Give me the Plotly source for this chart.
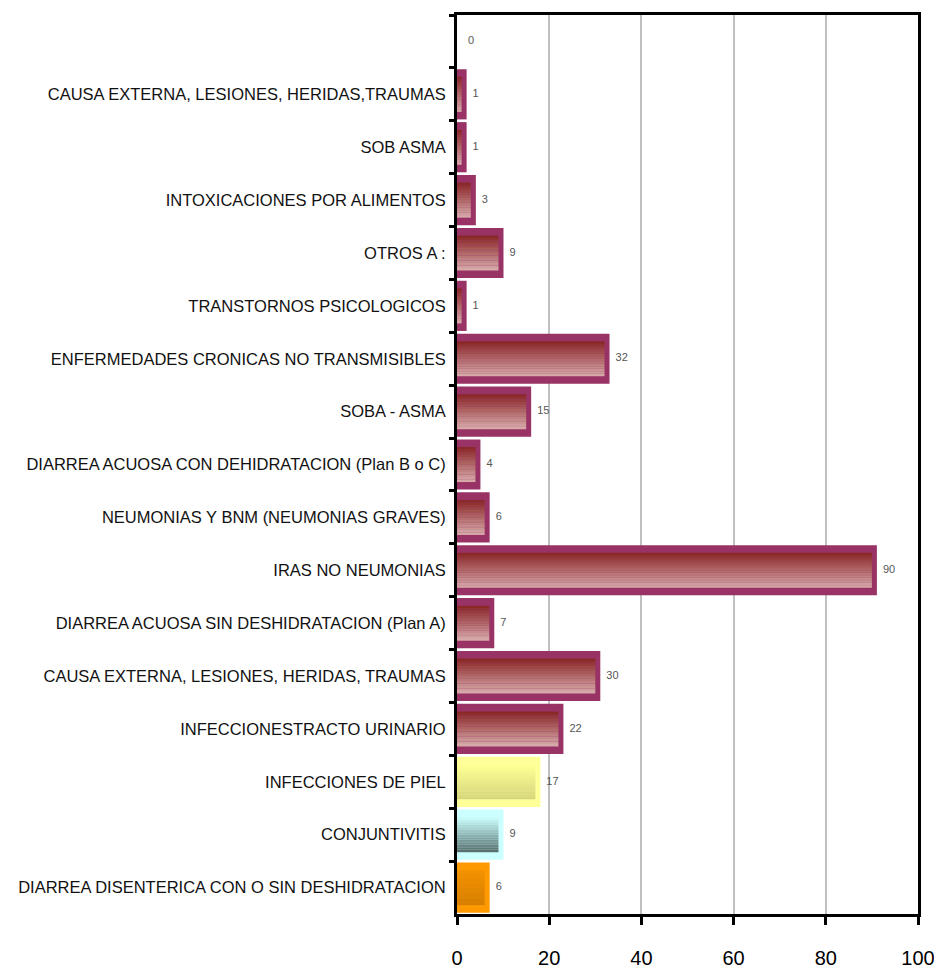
import plotly.graph_objects as go

categories = [
    " ",
    "CAUSA EXTERNA, LESIONES, HERIDAS,TRAUMAS",
    "SOB ASMA",
    "INTOXICACIONES POR ALIMENTOS",
    "OTROS A :",
    "TRANSTORNOS PSICOLOGICOS",
    "ENFERMEDADES CRONICAS NO TRANSMISIBLES",
    "SOBA - ASMA",
    "DIARREA ACUOSA CON DEHIDRATACION (Plan B o C)",
    "NEUMONIAS Y BNM (NEUMONIAS GRAVES)",
    "IRAS NO NEUMONIAS",
    "DIARREA ACUOSA SIN DESHIDRATACION (Plan A)",
    "CAUSA EXTERNA, LESIONES, HERIDAS, TRAUMAS",
    "INFECCIONESTRACTO URINARIO",
    "INFECCIONES DE PIEL",
    "CONJUNTIVITIS",
    "DIARREA DISENTERICA CON O SIN DESHIDRATACION",
]
values = [0, 1, 1, 3, 9, 1, 32, 15, 4, 6, 90, 7, 30, 22, 17, 9, 6]
x_ticks = [0, 20, 40, 60, 80, 100]

# style per category: (border colour, gradient top rgb, gradient bottom rgb)
maroon = ("#993366", (139, 40, 40), (214, 168, 168))
yellow = ("#FFFF99", (255, 255, 150), (214, 214, 125))
cyan = ("#CCFFFF", (200, 250, 250), (88, 112, 110))
orange = ("#FF9900", (242, 146, 0), (214, 126, 0))
styles = [maroon] * 14 + [yellow, cyan, orange]

fig = go.Figure()

# outer bar (border)
fig.add_trace(go.Bar(
    y=categories, x=values, orientation="h",
    width=0.76,
    marker=dict(color=[s[0] for s in styles],
                line=dict(color=[s[0] for s in styles],
                          width=[0 if v == 0 else 10 for v in values])),
    cliponaxis=True, hoverinfo="skip", showlegend=False,
))

# gradient bands inside each bar
N = 14
inner_w = 0.66
for k in range(N):
    t = k / (N - 1)
    cols = []
    for s in styles:
        a, b = s[1], s[2]
        c = tuple(round(a[i] + (b[i] - a[i]) * t) for i in range(3))
        cols.append("rgb(%d,%d,%d)" % c)
    fig.add_trace(go.Bar(
        y=categories, x=values, orientation="h",
        width=inner_w / N + 0.002, offset=-inner_w / 2 + k * inner_w / N,
        marker=dict(color=cols, line=dict(width=0)),
        hoverinfo="skip", showlegend=False,
    ))

# value labels
fig.add_trace(go.Scatter(
    y=categories, x=values, mode="markers+text",
    marker=dict(size=16, opacity=0),
    text=[str(v) for v in values], textposition="middle right",
    textfont=dict(size=11, color="#555555", family="Liberation Sans"),
    cliponaxis=False, hoverinfo="skip", showlegend=False,
))

fig.update_layout(
    width=942, height=971,
    barmode="overlay",
    margin=dict(l=449, r=32, t=7, b=65),
    paper_bgcolor="white", plot_bgcolor="white",
    font=dict(family="Liberation Sans, Arial", color="black"),
)
fig.update_xaxes(
    range=[0, 100], tickvals=x_ticks, ticktext=[str(t) for t in x_ticks],
    automargin=False,
    showgrid=True, gridcolor="#C0C0C0", gridwidth=2,
    showline=True, linecolor="black", linewidth=3, mirror=True,
    ticks="outside", ticklen=8, tickwidth=3, tickcolor="black",
    tickfont=dict(size=20, family="Liberation Sans", color="black"),
    ticklabelstandoff=16, zeroline=False,
)
fig.update_yaxes(
    categoryorder="array", categoryarray=categories,
    range=[len(categories) - 0.5, -0.5],
    automargin=False,
    showline=True, linecolor="black", linewidth=3, mirror=True,
    ticks="outside", ticklen=5, tickwidth=3, tickcolor="black",
    tickson="boundaries", showgrid=False, ticklabelstandoff=5,
    tickfont=dict(size=16.5, family="Liberation Sans", color="#111111"),
)

fig.write_html("out.html")
